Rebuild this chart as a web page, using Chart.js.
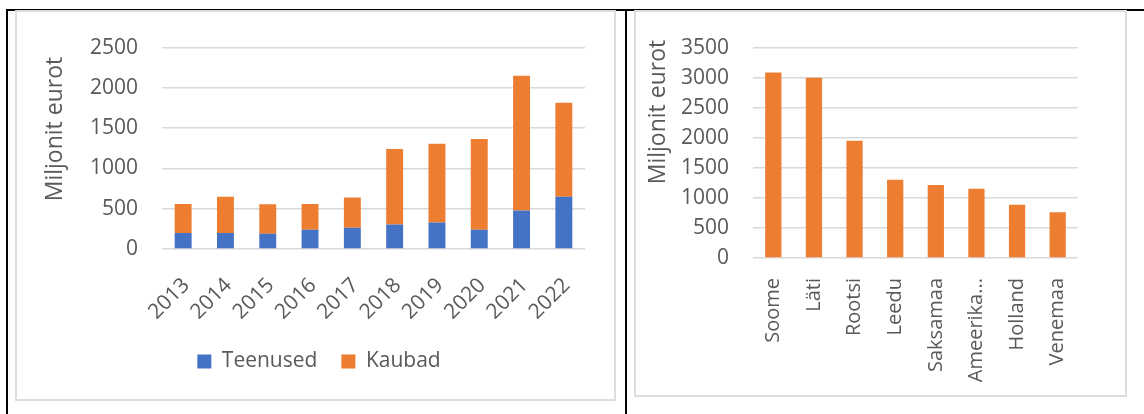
<!DOCTYPE html>
<html><head><meta charset="utf-8">
<script src="https://cdn.jsdelivr.net/npm/chart.js@4.4.1/dist/chart.umd.min.js"></script>
<style>
html,body{margin:0;padding:0;background:#fff;width:1144px;height:414px;overflow:hidden;position:relative}
.line{position:absolute;background:#000}
.frame{position:absolute;border:2px solid #DDDDDD;box-sizing:border-box}
canvas{position:absolute}
</style></head><body>
<div class="line" style="left:6px;top:9px;width:1138px;height:2px"></div>
<div class="line" style="left:6px;top:9px;width:2px;height:405px"></div>
<div class="line" style="left:625px;top:9px;width:2px;height:405px"></div>
<div class="frame" style="left:15px;top:10px;width:601px;height:391px"></div>
<div class="frame" style="left:634px;top:10px;width:493px;height:387px"></div>
<canvas id="c1" width="597" height="387" style="left:17px;top:11px"></canvas>
<canvas id="c2" width="490" height="384" style="left:636px;top:11px"></canvas>
<script>
// ---- data ----
const years = ['2013','2014','2015','2016','2017','2018','2019','2020','2021','2022'];
const teenused = [200, 200, 190, 240, 265, 305, 330, 240, 478, 650];
const kaubad = [360, 450, 365, 320, 375, 935, 975, 1125, 1672, 1165];
const leftTicks = [0, 500, 1000, 1500, 2000, 2500];

const countries = ['Soome', 'Läti', 'Rootsi', 'Leedu', 'Saksamaa', 'Ameerika...', 'Holland', 'Venemaa'];
const countryValues = [3085, 3000, 1950, 1300, 1215, 1150, 885, 760];
const rightTicks = [0, 500, 1000, 1500, 2000, 2500, 3000, 3500];

const seriesNames = ['Teenused', 'Kaubad'];
const yTitle = 'Miljonit eurot';

// ---- styles ----
const BLUE = '#4472C4', ORANGE = '#ED7D31', TEXT = '#595959', GRID = '#D9D9D9';
const FONT = "'Open Sans', 'Noto Sans', sans-serif";
Chart.defaults.font.family = FONT;
Chart.defaults.color = TEXT;

function yTitlePlugin(x, y) {
  return {
    id: 'ytitle',
    afterDraw(chart) {
      const ctx = chart.ctx;
      ctx.save();
      ctx.translate(x, y);
      ctx.rotate(-Math.PI / 2);
      ctx.font = "23px " + FONT;
      ctx.fillStyle = TEXT;
      ctx.textAlign = 'center';
      ctx.textBaseline = 'middle';
      ctx.fillText(yTitle, 0, 0);
      ctx.restore();
    }
  };
}

const legendShift = {
  id: 'legendShift',
  afterLayout(chart) {
    if (chart.legend) { chart.legend.left += 18; chart.legend.right += 18; }
  }
};

function yScale(max, ticks, width) {
  return {
    min: 0, max: max,
    afterBuildTicks: s => { s.ticks = ticks.map(v => ({value: v})); },
    afterFit: s => { s.width = width; },
    grid: {color: GRID, lineWidth: 1.5, drawTicks: false},
    border: {display: false},
    ticks: {padding: 24, font: {size: 21}, color: TEXT, callback: v => String(v)}
  };
}

new Chart(document.getElementById('c1'), {
  type: 'bar',
  data: {
    labels: years,
    datasets: [
      {label: seriesNames[0], data: teenused, backgroundColor: BLUE},
      {label: seriesNames[1], data: kaubad, backgroundColor: ORANGE}
    ]
  },
  options: {
    responsive: false, animation: false, devicePixelRatio: 1,
    layout: {padding: {left: 0, right: 29, top: 29, bottom: 16}},
    datasets: {bar: {barPercentage: 0.4, categoryPercentage: 1}},
    plugins: {
      legend: {
        position: 'bottom',
        labels: {boxWidth: 14, boxHeight: 14, padding: 24, font: {size: 21}, color: TEXT}
      },
      tooltip: {enabled: false}
    },
    scales: {
      x: {
        stacked: true,
        afterFit: s => { s.height = 78; },
        grid: {display: false, drawTicks: false},
        border: {display: false},
        ticks: {autoSkip: false, minRotation: 45, maxRotation: 45, padding: 24, labelOffset: 3, font: {size: 21}, color: TEXT}
      },
      y: Object.assign(yScale(2500, leftTicks, 145), {stacked: true})
    }
  },
  plugins: [yTitlePlugin(38, 118), legendShift]
});

new Chart(document.getElementById('c2'), {
  type: 'bar',
  data: {
    labels: countries,
    datasets: [
      {label: seriesNames[1], data: countryValues, backgroundColor: ORANGE}
    ]
  },
  options: {
    responsive: false, animation: false, devicePixelRatio: 1,
    layout: {padding: {left: 0, right: 48, top: 18, bottom: 0}},
    datasets: {bar: {barPercentage: 0.4, categoryPercentage: 1}},
    plugins: {legend: {display: false}, tooltip: {enabled: false}},
    scales: {
      x: {
        afterFit: s => { s.height = 137; },
        grid: {display: false, drawTicks: false},
        border: {display: false},
        ticks: {autoSkip: false, minRotation: 90, maxRotation: 90, padding: 20, font: {size: 20}, color: TEXT}
      },
      y: yScale(3500, rightTicks, 117)
    }
  },
  plugins: [yTitlePlugin(22, 101)]
});
</script>
</body></html>
